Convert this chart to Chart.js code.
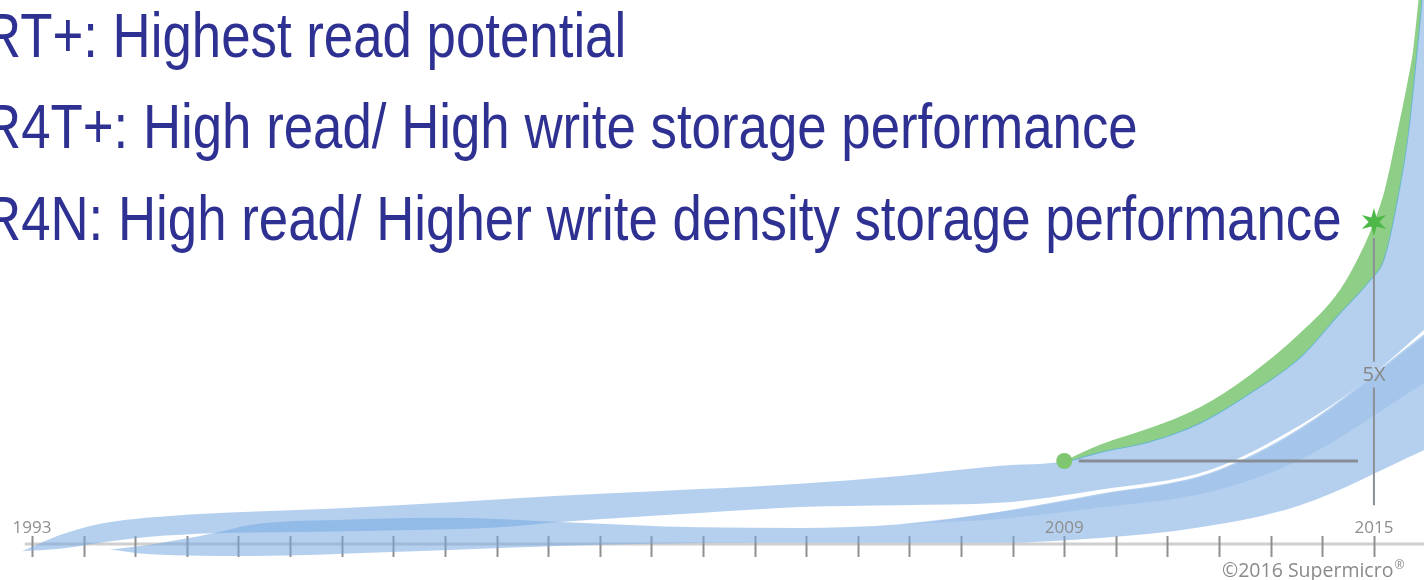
<!DOCTYPE html>
<html>
<head>
<meta charset="utf-8">
<title>Storage performance timeline</title>
<script src="https://cdn.jsdelivr.net/npm/chart.js@4.4.1/dist/chart.umd.min.js"></script>
<style>
  html, body { margin: 0; padding: 0; background: #ffffff; overflow: hidden; }
  #wrap { position: relative; width: 1424px; height: 580px; }
</style>
</head>
<body>
<div id="wrap"><canvas id="chart"></canvas></div>
<script>
// ---- Timeline periods (one tick per period) and year labels ----
const periods = [0, 1, 2, 3, 4, 5, 6, 7, 8, 9, 10, 11, 12, 13, 14, 15, 16, 17, 18, 19, 20, 21, 22, 23, 24, 25, 26];
const labelPeriods = [0, 20, 26];
const labelYears = ['1993', '2009', '2015'];

// ---- Headline ----
const headlines = [
  'RT+: Highest read potential',
  'R4T+: High read/ High write storage performance',
  'R4N: High read/ Higher write density storage performance'
];

// ---- Relative performance ribbons: [period, relative performance] ----
// Upper ribbon (read performance) – top and bottom edges
const readTop = [[-0.19,-0.51],[0.54,-0.24],[1.32,-0.05],[2.67,0.08],[4.22,0.15],[5.77,0.20],[7.52,0.28],[9.07,0.36],[11.0,0.45],[12.94,0.53],[14.88,0.62],[16.82,0.75],[18.75,0.92],[20,1.0],[20.69,1.2],[21.66,1.44],[22.63,1.77],[23.6,2.29],[24.57,2.94],[25.34,3.67],[25.92,4.4],[26.18,4.9],[26.41,5.8],[26.66,7.0],[26.81,8.0],[26.97,9.3]];
const readBottom = [[-0.19,-0.51],[0.54,-0.47],[1.32,-0.37],[2.29,-0.27],[3.51,-0.21],[5.19,-0.19],[7.13,-0.16],[9.07,-0.11],[10.23,-0.02],[12.94,0.13],[14.88,0.23],[16.82,0.26],[18.75,0.30],[20.69,0.52],[22.82,0.85],[24.57,1.60],[25.73,2.27],[26.97,3.19]];
// Lower ribbon (write performance) – top and bottom edges
const writeTop = [[1.51,-0.48],[2.29,-0.40],[3.51,-0.21],[4.22,-0.07],[6.16,0.02],[8.10,0.05],[10.23,-0.02],[12.94,-0.11],[14.88,-0.12],[16.82,-0.06],[18.75,0.15],[20.69,0.45],[22.82,0.80],[24.57,1.55],[26.97,3.12]];
const writeBottom = [[1.51,-0.48],[2.29,-0.56],[4.22,-0.59],[7.13,-0.52],[11.0,-0.40],[14.88,-0.37],[18.75,-0.37],[20.69,-0.29],[22.63,-0.11],[24.57,0.26],[26.97,1.18]];
// Denser fold inside the write ribbon
const writeFoldTop = [[16.8,-0.06],[18.75,0.14],[20.69,0.43],[22.82,0.78],[24.57,1.52],[26.97,3.08]];
const writeFoldBottom = [[16.8,-0.06],[18.75,0.03],[20.69,0.22],[22.82,0.48],[24.57,1.02],[26.97,2.3]];
// Green growth band from 2009 to 2015 and beyond
const growthTop = [[20,1.0],[20.69,1.27],[21.66,1.55],[22.63,1.90],[23.6,2.44],[24.57,3.14],[25.34,3.86],[25.77,4.53],[25.98,4.95],[26.21,5.54],[26.45,6.49],[26.66,7.38],[26.76,7.88],[26.85,8.6],[26.93,9.3]];
const growthBottom = [[20,0.98],[20.69,1.15],[21.66,1.33],[22.63,1.64],[23.6,2.14],[24.57,2.74],[25.34,3.48],[25.92,4.03],[26.18,4.36],[26.41,5.20],[26.66,6.49],[26.81,7.71],[26.91,8.6],[26.97,9.3]];

// ---- Milestones ----
const startPoint = [20, 1];     // 2009 baseline
const endPoint = [26, 5];       // 2015, 5X
const gainLabel = '5X';
const baselineRule = [[20.28, 1], [25.69, 1]];
const gainRuleUpper = [[26, 4.73], [26, 2.66]];
const gainRuleLower = [[26, 2.23], [26, 0.26]];
const gainLabelLevel = 2.44;
const axisLevel = -0.389;
const axisStart = -0.14;

const pts = arr => arr.map(p => ({ x: p[0], y: p[1] }));

// Six-pointed star marker
function makeStar(size, color) {
  const c = document.createElement('canvas');
  c.width = size; c.height = size;
  const g = c.getContext('2d');
  const cx = size / 2, cy = size / 2, ro = size / 2 - 1, ri = ro * 0.38;
  g.beginPath();
  for (let i = 0; i < 12; i++) {
    const r = i % 2 === 0 ? ro : ri;
    const a = -Math.PI / 2 + i * Math.PI / 6;
    const px = cx + r * Math.cos(a), py = cy + r * Math.sin(a);
    if (i === 0) g.moveTo(px, py); else g.lineTo(px, py);
  }
  g.closePath();
  g.fillStyle = color;
  g.fill();
  return c;
}
const starImage = makeStar(30, '#4db848');

const blueFill = 'rgba(120,170,225,0.55)';
const foldFill = 'rgba(110,160,220,0.22)';
const clear = 'rgba(0,0,0,0)';

const ribbon = (data, fill, bg, order, border) => ({
  type: 'line',
  data: pts(data),
  fill: fill,
  backgroundColor: bg,
  borderColor: border || clear,
  borderWidth: border ? 2 : 0,
  pointRadius: 0,
  cubicInterpolationMode: 'monotone',
  order: order
});

// Axis with crossing tick marks, drawn under the ribbons
const timelineAxis = {
  id: 'timelineAxis',
  beforeDatasetsDraw(chart) {
    const { ctx } = chart;
    const xs = chart.scales.x, ys = chart.scales.y;
    const yA = ys.getPixelForValue(axisLevel);
    ctx.save();
    ctx.strokeStyle = '#cfcfcf';
    ctx.lineWidth = 3;
    ctx.beginPath();
    ctx.moveTo(xs.getPixelForValue(axisStart), yA);
    ctx.lineTo(chart.width, yA);
    ctx.stroke();
    ctx.strokeStyle = '#8e8e8e';
    ctx.lineWidth = 2;
    periods.forEach(p => {
      const x = Math.round(xs.getPixelForValue(p)) + 0.5;
      ctx.beginPath();
      ctx.moveTo(x, yA - 8);
      ctx.lineTo(x, yA + 13);
      ctx.stroke();
    });
    ctx.restore();
  },
  afterDraw(chart) {
    const { ctx } = chart;
    const xs = chart.scales.x, ys = chart.scales.y;
    const yA = ys.getPixelForValue(axisLevel);
    ctx.save();
    // year labels
    ctx.font = '17px "Open Sans", "Liberation Sans", sans-serif';
    ctx.fillStyle = '#8e8e8e';
    ctx.textAlign = 'center';
    ctx.textBaseline = 'alphabetic';
    labelPeriods.forEach((p, i) => ctx.fillText(labelYears[i], xs.getPixelForValue(p), yA - 11));
    // gain label
    ctx.font = '20px "Open Sans", "Liberation Sans", sans-serif';
    ctx.fillStyle = '#868686';
    ctx.textBaseline = 'middle';
    ctx.fillText(gainLabel, xs.getPixelForValue(endPoint[0]), ys.getPixelForValue(gainLabelLevel));
    // copyright
    ctx.textAlign = 'left';
    ctx.textBaseline = 'alphabetic';
    ctx.font = '19.5px "Open Sans", "Liberation Sans", sans-serif';
    ctx.fillStyle = '#8a8a8a';
    const copy = '\u00A92016 Supermicro';
    ctx.fillText(copy, 1222, 577);
    const w = ctx.measureText(copy).width;
    ctx.font = '12px "Open Sans", "Liberation Sans", sans-serif';
    ctx.fillText('\u00AE', 1222 + w + 1, 569);
    // headline
    ctx.fillStyle = '#2e3192';
    ctx.font = '63px "Liberation Sans", Arial, sans-serif';
    const baselines = [57, 148, 240];
    headlines.forEach((t, i) => {
      ctx.save();
      ctx.translate(-17, baselines[i]);
      ctx.scale(0.838, 1);
      ctx.fillText(t, 0, 0);
      ctx.restore();
    });
    ctx.restore();
  }
};

new Chart(document.getElementById('chart'), {
  type: 'scatter',
  data: {
    datasets: [
      ribbon(writeTop, '+1', blueFill, 7),
      ribbon(writeBottom, false, clear, 7),
      ribbon(writeFoldTop, '+1', foldFill, 6),
      ribbon(writeFoldBottom, false, clear, 6),
      ribbon(readTop, '+1', blueFill, 5),
      ribbon(readBottom, false, clear, 5),
      ribbon(growthTop, '+1', '#8fce86', 4),
      ribbon(growthBottom, false, clear, 4, 'rgba(86,178,200,0.8)'),
      { type: 'line', data: pts(baselineRule), borderColor: '#878d95', borderWidth: 3, pointRadius: 0, fill: false, order: 2 },
      { type: 'line', data: pts(gainRuleUpper), borderColor: '#8b9097', borderWidth: 2, pointRadius: 0, fill: false, order: 2 },
      { type: 'line', data: pts(gainRuleLower), borderColor: '#8b9097', borderWidth: 2, pointRadius: 0, fill: false, order: 2 },
      { type: 'scatter', data: pts([startPoint]), pointStyle: 'circle', pointRadius: 8, backgroundColor: '#80c570', borderWidth: 0, order: 1 },
      { type: 'scatter', data: pts([endPoint]), pointStyle: starImage, pointRadius: 15, order: 0 }
    ]
  },
  options: {
    responsive: true,
    maintainAspectRatio: false,
    animation: false,
    events: [],
    layout: { padding: 0, autoPadding: false },
    plugins: { legend: { display: false }, tooltip: { enabled: false } },
    scales: {
      x: { type: 'linear', min: -0.62, max: 26.97, display: false },
      y: { type: 'linear', min: -0.992, max: 8.715, display: false }
    }
  },
  plugins: [timelineAxis]
});
</script>
</body>
</html>
